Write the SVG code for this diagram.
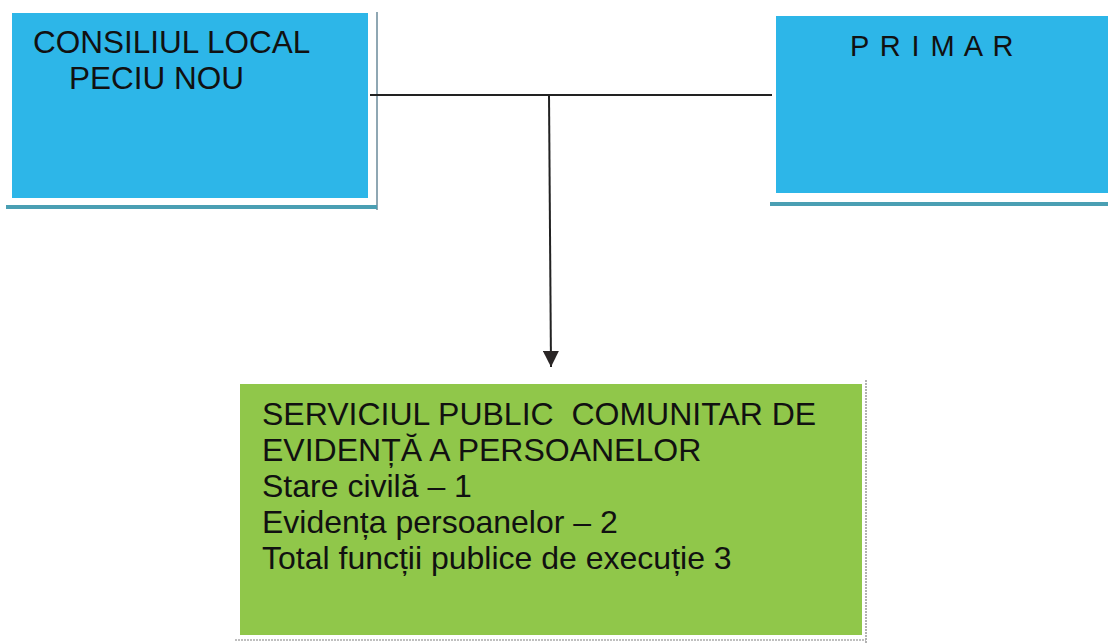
<svg xmlns="http://www.w3.org/2000/svg" width="1108" height="644" viewBox="0 0 1108 644">
<style>
.blue{fill:#2db6e8}
.green{fill:#90c74a}
.t{font-family:"Liberation Sans",Arial,sans-serif;fill:#111;white-space:pre}
.conn{stroke:#222;stroke-width:2;fill:none}
.shadow{stroke:#4a9fb3;stroke-width:4}
.edge{stroke:#6a8a9a;stroke-width:1.5}
</style>
<defs>
<marker id="arr" viewBox="0 0 10 10" refX="10" refY="5" markerWidth="16" markerHeight="16" markerUnits="userSpaceOnUse" orient="auto">
<path d="M0,0 L10,5 L0,10 Z" fill="#2a2626"/>
</marker>
</defs>
<rect width="1108" height="644" fill="#ffffff"/>
<g id="consiliul">
<rect class="blue" x="12" y="13" width="356" height="185"/>
<line class="edge" x1="377" y1="12" x2="377" y2="210"/>
<line class="shadow" x1="6" y1="207" x2="377" y2="207"/>
<text class="t" x="33" y="53" font-size="31.5">CONSILIUL LOCAL</text>
<text class="t" x="69" y="89" font-size="31.5">PECIU NOU</text>
</g>
<g id="primar">
<rect class="blue" x="776" y="16" width="332" height="177"/>
<line class="shadow" x1="770" y1="204" x2="1108" y2="204"/>
<text class="t" x="850" y="56" font-size="29" letter-spacing="1.4">P R I M A R</text>
</g>
<g id="serviciul">
<rect class="green" x="240" y="384" width="622" height="251"/>
<line x1="866" y1="380" x2="866" y2="644" stroke="#999" stroke-width="1.5" stroke-dasharray="2,1"/>
<line x1="235" y1="640" x2="866" y2="640" stroke="#aaa" stroke-width="1.5" stroke-dasharray="2,1"/>
<text class="t" x="262" y="425" font-size="32" xml:space="preserve">SERVICIUL PUBLIC  COMUNITAR DE</text>
<text class="t" x="262" y="461" font-size="32">EVIDENȚĂ A PERSOANELOR</text>
<text class="t" x="262" y="497" font-size="32">Stare civilă – 1</text>
<text class="t" x="262" y="533" font-size="32">Evidența persoanelor – 2</text>
<text class="t" x="262" y="569" font-size="32">Total funcții publice de execuție 3</text>
</g>
<g id="connectors">
<line class="conn" x1="370" y1="95" x2="772" y2="95"/>
<line class="conn" x1="549" y1="95" x2="551" y2="367" marker-end="url(#arr)"/>
</g>
</svg>
